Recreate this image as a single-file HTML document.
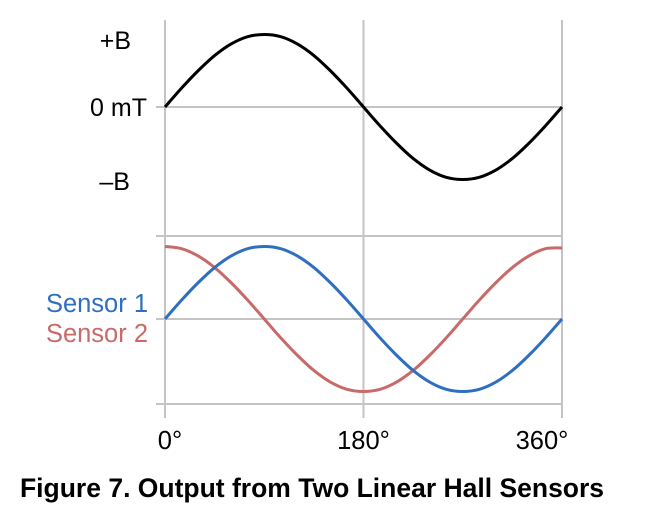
<!DOCTYPE html>
<html><head><meta charset="utf-8"><style>
body{margin:0;background:#fff;width:648px;height:524px;overflow:hidden;font-family:"Liberation Sans",Arial,sans-serif}
svg{display:block}
</style></head><body>
<svg id="chart" width="648" height="524">
<g id="grid"></g><g id="series"></g>
<text x="131" y="49" font-size="25" text-anchor="end">+B</text>
<text x="147" y="116" font-size="25" text-anchor="end">0 mT</text>
<text x="130" y="190" font-size="25" text-anchor="end">–B</text>
<text x="148" y="312" font-size="25.5" text-anchor="end" fill="#2f6fbf">Sensor 1</text>
<text x="148" y="342" font-size="25.5" text-anchor="end" fill="#c96a6a">Sensor 2</text>
<text x="20" y="497" font-size="26.5" font-weight="bold">Figure 7. Output from Two Linear Hall Sensors</text>
</svg>
<script>
const angles=[0,15,30,45,60,75,90,105,120,135,150,165,180,195,210,225,240,255,270,285,300,315,330,345,360];
const field=[0,0.26,0.5,0.71,0.87,0.97,1,0.97,0.87,0.71,0.5,0.26,0,-0.26,-0.5,-0.71,-0.87,-0.97,-1,-0.97,-0.87,-0.71,-0.5,-0.26,0];
const sensor1=[0,0.26,0.5,0.71,0.87,0.97,1,0.97,0.87,0.71,0.5,0.26,0,-0.26,-0.5,-0.71,-0.87,-0.97,-1,-0.97,-0.87,-0.71,-0.5,-0.26,0];
const sensor2=[1,0.97,0.87,0.71,0.5,0.26,0,-0.26,-0.5,-0.71,-0.87,-0.97,-1,-0.97,-0.87,-0.71,-0.5,-0.26,0,0.26,0.5,0.71,0.87,0.97,0.98];
const xTicks=[0,180,360];
const xTickLabels=["0°","180°","360°"];
const NS="http://www.w3.org/2000/svg";
const x=a=>165+a*(562-165)/360;
const yTop=v=>107-v*72.5;
const yBot=v=>319-v*72.5;
const grid=document.getElementById('grid'),series=document.getElementById('series'),svg=document.getElementById('chart');
function line(x1,y1,x2,y2,name){const l=document.createElementNS(NS,'line');
l.setAttribute('x1',x1);l.setAttribute('y1',y1);l.setAttribute('x2',x2);l.setAttribute('y2',y2);
l.setAttribute('stroke','#c4c4c4');l.setAttribute('stroke-width','2');


grid.appendChild(l);}
xTicks.forEach((t,i)=>{line(x(t),20,x(t),418,'x-gridline-'+t);
const tx=document.createElementNS(NS,'text');tx.setAttribute('x',x(t)+(i==0?5:i==2?-20:0));tx.setAttribute('y',449);
tx.setAttribute('font-size','25.5');tx.setAttribute('text-anchor','middle');tx.textContent=xTickLabels[i];


svg.appendChild(tx);});
line(156,yTop(0),562,yTop(0),'top-zero-line');
line(156,236,562,236,'bottom-top-line');
line(156,yBot(0),562,yBot(0),'bottom-zero-line');
line(156,404,562,404,'bottom-bottom-line');
function path(vals,yf,color,name){
let pts=angles.map((a,i)=>[x(a),yf(vals[i])]);
let d='M'+pts[0][0]+','+pts[0][1];
for(let i=0;i<pts.length-1;i++){const p0=pts[i-1]||pts[i],p1=pts[i],p2=pts[i+1],p3=pts[i+2]||p2;
d+=' C'+(p1[0]+(p2[0]-p0[0])/6)+','+(p1[1]+(p2[1]-p0[1])/6)+' '+(p2[0]-(p3[0]-p1[0])/6)+','+(p2[1]-(p3[1]-p1[1])/6)+' '+p2[0]+','+p2[1];}
const p=document.createElementNS(NS,'path');p.setAttribute('d',d);p.setAttribute('fill','none');
p.setAttribute('stroke',color);p.setAttribute('stroke-width','3');


series.appendChild(p);}
path(field,yTop,'#000','field-line');
path(sensor2,yBot,'#c96a6a','sensor-2-line');
path(sensor1,yBot,'#2f6fbf','sensor-1-line');
</script>
</body></html>
